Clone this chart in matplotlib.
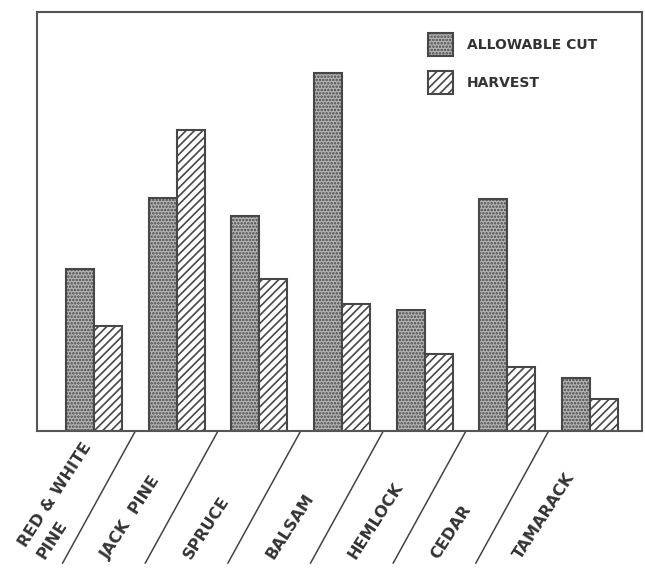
import numpy as np
import matplotlib
matplotlib.use("Agg")
import matplotlib.pyplot as plt
from matplotlib.patches import Patch

# species along the x axis
species = ["RED & WHITE\nPINE", "JACK  PINE", "SPRUCE", "BALSAM",
           "HEMLOCK", "CEDAR", "TAMARACK"]
# values (no scale printed, relative units)
allowable_cut = [162, 233, 215, 358, 121, 232, 53]
harvest = [105, 301, 152, 127, 77, 64, 32]

plt.rcParams["hatch.linewidth"] = 1.2
plt.rcParams["font.family"] = "DejaVu Sans"

fig = plt.figure(figsize=(6.45, 5.69), dpi=100)
ax = fig.add_axes([0.0574, 0.2425, 0.9379, 0.7365])

x = np.arange(len(species))
w = 0.34
edge = "#474747"
dots_face = "#b4b4b4"

ax.bar(x - w / 2, allowable_cut, w, facecolor=dots_face, edgecolor=edge,
       hatch=".....", linewidth=1.5)
ax.bar(x + w / 2, harvest, w, facecolor="white", edgecolor=edge,
       hatch="////", linewidth=1.5)

ax.set_xlim(-0.69, 6.63)
ax.set_ylim(0, 419)
ax.set_xticks([])
ax.set_yticks([])
for s in ax.spines.values():
    s.set_color("#555555")
    s.set_linewidth(1.5)

# diagonal separators below the axis, between groups
for m in x[:-1] + 0.5:
    ax.plot([m, m - 0.88], [0, -132], color="#444444", lw=1.1, clip_on=False)

# slanted category labels
for i, lab in enumerate(species):
    off = -0.8 if i > 0 else -0.57
    ax.text(i + off, -131, lab, rotation=57, rotation_mode="anchor",
            ha="left", va="bottom", fontsize=11.5, fontweight="bold",
            color="#333333", linespacing=1.6, clip_on=False)

handles = [Patch(facecolor=dots_face, edgecolor=edge, hatch=".....", lw=1.5),
           Patch(facecolor="white", edgecolor=edge, hatch="////", lw=1.5)]
leg = ax.legend(handles, ["ALLOWABLE CUT", "HARVEST"], loc="upper left",
                bbox_to_anchor=(0.625, 0.979), frameon=False,
                handlelength=1.8, handleheight=2.17, handletextpad=1.0,
                labelspacing=1.08, prop={"weight": "bold", "size": 10})
for t in leg.get_texts():
    t.set_color("#333333")

fig.savefig("out.png", dpi=100, facecolor="white")
